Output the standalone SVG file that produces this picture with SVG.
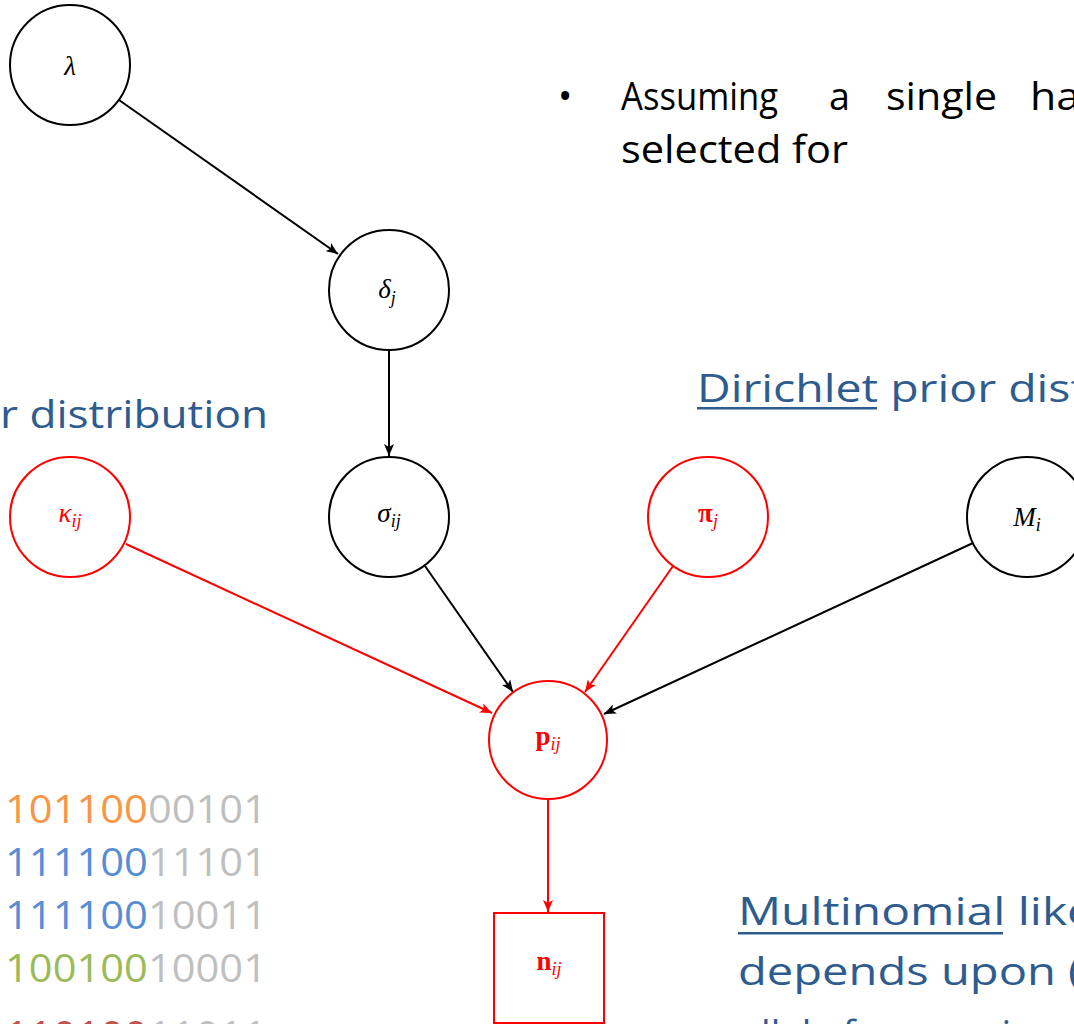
<svg xmlns="http://www.w3.org/2000/svg" width="1074" height="1024" viewBox="0 0 1074 1024">
<style>
.nb{fill:#fff;stroke:#000;stroke-width:2}
.nr{fill:#fff;stroke:#f00;stroke-width:2}
.eb{stroke:#000;stroke-width:2;fill:none}
.er{stroke:#f00;stroke-width:2;fill:none}
.m{font-family:"Liberation Serif","DejaVu Serif",serif;font-style:italic;font-size:27px;text-anchor:middle}
.sub{font-size:18px}
.bold{font-weight:bold;font-style:normal}
.red{fill:#f00}
.blk{fill:#000}
.cal{font-family:"Open Sans","Noto Sans",sans-serif;font-size:38px}
.blue{fill:#2E5C8F}
.bin{font-family:"Open Sans","Noto Sans",sans-serif;font-size:38px}
</style>
<defs>
<marker id="ab" viewBox="0 0 12 10" refX="12" refY="5" markerWidth="12" markerHeight="10" markerUnits="userSpaceOnUse" orient="auto"><path d="M0,0 L12,5 L0,10 L3,5 Z" fill="#000"/></marker>
<marker id="ar" viewBox="0 0 12 10" refX="12" refY="5" markerWidth="12" markerHeight="10" markerUnits="userSpaceOnUse" orient="auto"><path d="M0,0 L12,5 L0,10 L3,5 Z" fill="#f00"/></marker>
</defs>

<g id="connectors">
<line class="eb" x1="119" y1="100" x2="338" y2="254" marker-end="url(#ab)"/>
<line class="eb" x1="389" y1="350" x2="389" y2="456" marker-end="url(#ab)"/>
<line class="er" x1="126" y1="544" x2="492" y2="713" marker-end="url(#ar)"/>
<line class="eb" x1="425" y1="566" x2="513" y2="692" marker-end="url(#ab)"/>
<line class="er" x1="673" y1="566" x2="585" y2="692" marker-end="url(#ar)"/>
<line class="eb" x1="973" y1="543" x2="604" y2="714" marker-end="url(#ab)"/>
<line class="er" x1="548" y1="800" x2="548" y2="912" marker-end="url(#ar)"/>
</g>

<g id="n-lambda"><circle class="nb" cx="70" cy="65" r="60"/><text class="m blk" x="70" y="75">λ</text></g>
<g id="n-delta"><circle class="nb" cx="389" cy="290" r="60"/><text class="m blk" x="387" y="298">δ<tspan class="sub" dy="6">j</tspan></text></g>
<g id="n-kappa"><circle class="nr" cx="70" cy="517" r="60"/><text class="m red" x="70" y="522">κ<tspan class="sub" dy="5">ij</tspan></text></g>
<g id="n-sigma"><circle class="nb" cx="389" cy="517" r="60"/><text class="m blk" x="389" y="522">σ<tspan class="sub" dy="5">ij</tspan></text></g>
<g id="n-pi"><circle class="nr" cx="708" cy="517" r="60"/><text class="m red" x="708" y="522"><tspan class="bold">π</tspan><tspan class="sub" dy="5">j</tspan></text></g>
<g id="n-M"><circle class="nb" cx="1027" cy="517" r="60"/><text class="m blk" x="1027" y="526">M<tspan class="sub" dy="5">i</tspan></text></g>
<g id="n-p"><circle class="nr" cx="548" cy="740" r="59"/><text class="m red" x="548" y="745"><tspan class="bold">p</tspan><tspan class="sub" dy="5">ij</tspan></text></g>
<g id="n-n"><rect class="nr" x="494" y="913" width="110" height="110"/><text class="m red" x="549" y="970"><tspan class="bold">n</tspan><tspan class="sub" dy="5">ij</tspan></text></g>

<g id="texts">
<text class="cal blk" x="558" y="110" font-size="44">•</text>
<text class="cal blk" x="621" y="110" textLength="157" lengthAdjust="spacingAndGlyphs">Assuming</text>
<text class="cal blk" x="829" y="110" textLength="21" lengthAdjust="spacingAndGlyphs">a</text>
<text class="cal blk" x="886" y="110" textLength="111" lengthAdjust="spacingAndGlyphs">single</text>
<text class="cal blk" x="1030" y="110" textLength="50" lengthAdjust="spacingAndGlyphs">ha</text>
<text class="cal blk" x="621" y="163" textLength="227" lengthAdjust="spacingAndGlyphs">selected for</text>

<text class="cal blue" x="0" y="428" textLength="268" lengthAdjust="spacingAndGlyphs">r distribution</text>
<text class="cal blue" x="697" y="402" textLength="390" lengthAdjust="spacingAndGlyphs">Dirichlet prior dist</text>
<rect x="697" y="407" width="180" height="2.5" fill="#2E5C8F"/>

<text class="cal blue" x="738" y="925" textLength="356" lengthAdjust="spacingAndGlyphs">Multinomial like</text>
<rect x="738" y="932" width="265" height="2.5" fill="#2E5C8F"/>
<text class="cal blue" x="738" y="985" textLength="344" lengthAdjust="spacingAndGlyphs">depends upon (</text>
<text class="cal blue" x="740" y="1048">allele frequencies</text>

<text class="bin" x="5" y="823" textLength="262" lengthAdjust="spacingAndGlyphs"><tspan fill="#F79646">101100</tspan><tspan fill="#BFBFBF">00101</tspan></text>
<text class="bin" x="5" y="876" textLength="262" lengthAdjust="spacingAndGlyphs"><tspan fill="#558ED5">111100</tspan><tspan fill="#BFBFBF">11101</tspan></text>
<text class="bin" x="5" y="929" textLength="262" lengthAdjust="spacingAndGlyphs"><tspan fill="#558ED5">111100</tspan><tspan fill="#BFBFBF">10011</tspan></text>
<text class="bin" x="5" y="982" textLength="262" lengthAdjust="spacingAndGlyphs"><tspan fill="#9BBB59">100100</tspan><tspan fill="#BFBFBF">10001</tspan></text>
<text class="bin" x="5" y="1049" textLength="262" lengthAdjust="spacingAndGlyphs"><tspan fill="#C0504D">110100</tspan><tspan fill="#BFBFBF">11011</tspan></text>
</g>
</svg>
